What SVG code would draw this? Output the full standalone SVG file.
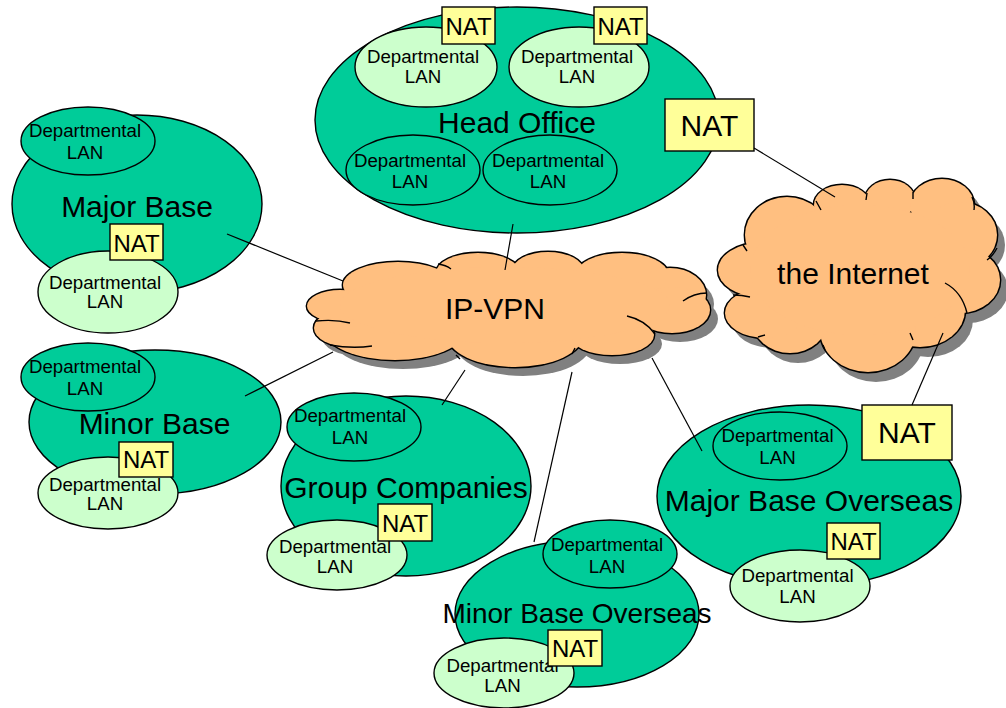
<svg xmlns="http://www.w3.org/2000/svg" xmlns:xlink="http://www.w3.org/1999/xlink" width="1006" height="708" viewBox="0 0 1006 708">
<style>
text{font-family:"Liberation Sans",Arial,sans-serif;fill:#000;text-anchor:middle}
.big{fill:#00CC99;stroke:#000;stroke-width:1.4}
.dd{fill:#00CC99;stroke:#000;stroke-width:1.4}
.dl{fill:#CCFFCC;stroke:#000;stroke-width:1.4}
.nat{fill:#FFFF99;stroke:#000;stroke-width:1.4}
.shadow{fill:#808080;stroke:none}
.cstroke{fill:#000;stroke:#000;stroke-width:2.8}
.cfill{fill:#FFBF80;stroke:none}
.inner{fill:none;stroke:#000;stroke-width:1.4}
.td{font-size:18.7px}
.tt{font-size:30px}
.tn{font-size:24px}
.tnb{font-size:30px}
.conn{stroke:#000;stroke-width:1.2;fill:none}
</style>
<defs>
<g id="vpnLobes">
<ellipse cx="398" cy="285" rx="55" ry="23"/>
<ellipse cx="478" cy="273" rx="42" ry="20"/>
<ellipse cx="548" cy="271" rx="36" ry="19"/>
<ellipse cx="622" cy="274" rx="46" ry="21"/>
<ellipse cx="670" cy="295" rx="36" ry="27"/>
<ellipse cx="672" cy="310" rx="38" ry="23"/>
<ellipse cx="612" cy="335" rx="42" ry="20"/>
<ellipse cx="515" cy="335" rx="68" ry="32"/>
<ellipse cx="395" cy="330" rx="70" ry="30"/>
<ellipse cx="350" cy="328" rx="36" ry="19"/>
<ellipse cx="340" cy="306" rx="33" ry="16"/>
</g>
<g id="netLobes">
<ellipse cx="787" cy="235" rx="42" ry="38"/>
<ellipse cx="842" cy="205" rx="28" ry="20"/>
<ellipse cx="890" cy="200" rx="25" ry="20"/>
<ellipse cx="942" cy="205" rx="32" ry="26"/>
<ellipse cx="960" cy="235" rx="37" ry="33"/>
<ellipse cx="960" cy="280" rx="40" ry="33"/>
<ellipse cx="920" cy="310" rx="45" ry="37"/>
<ellipse cx="868" cy="330" rx="48" ry="42"/>
<ellipse cx="790" cy="320" rx="38" ry="33"/>
<ellipse cx="765" cy="313" rx="40" ry="25"/>
<ellipse cx="760" cy="270" rx="42" ry="27"/>
</g>
</defs>

<g id="majorBase">
<ellipse class="big" cx="137" cy="204" rx="125" ry="89"/>
<text class="tt" x="137" y="217">Major Base</text>
<ellipse class="dd" cx="88" cy="141" rx="67" ry="34"/>
<text class="td" x="85" y="137">Departmental</text>
<text class="td" x="85" y="159">LAN</text>
<ellipse class="dl" cx="108" cy="292" rx="70" ry="41"/>
<text class="td" x="105" y="289">Departmental</text>
<text class="td" x="105" y="308">LAN</text>
<rect class="nat" x="110" y="224" width="53" height="36"/>
<text class="tn" x="136.5" y="252">NAT</text>
</g>

<g id="minorBase">
<ellipse class="big" cx="155" cy="422" rx="126" ry="72"/>
<text class="tt" x="154.5" y="434">Minor Base</text>
<ellipse class="dd" cx="88" cy="377" rx="67" ry="34"/>
<text class="td" x="85" y="373">Departmental</text>
<text class="td" x="85" y="395">LAN</text>
<ellipse class="dl" cx="108" cy="493" rx="70" ry="36"/>
<text class="td" x="105" y="491">Departmental</text>
<text class="td" x="105" y="510">LAN</text>
<rect class="nat" x="119" y="442" width="54" height="35"/>
<text class="tn" x="146" y="468">NAT</text>
</g>

<g id="headOffice">
<ellipse class="big" cx="517" cy="120" rx="202" ry="113"/>
<text class="tt" x="517" y="133">Head Office</text>
<ellipse class="dl" cx="426" cy="67" rx="71" ry="40"/>
<text class="td" x="423" y="63">Departmental</text>
<text class="td" x="423" y="83">LAN</text>
<ellipse class="dl" cx="579" cy="67" rx="70" ry="40"/>
<text class="td" x="577" y="63">Departmental</text>
<text class="td" x="577" y="83">LAN</text>
<ellipse class="dd" cx="413" cy="170" rx="67" ry="35"/>
<text class="td" x="410" y="167">Departmental</text>
<text class="td" x="410" y="188">LAN</text>
<ellipse class="dd" cx="550" cy="170" rx="67" ry="35"/>
<text class="td" x="548" y="167">Departmental</text>
<text class="td" x="548" y="188">LAN</text>
<rect class="nat" x="442" y="7" width="53" height="37"/>
<text class="tn" x="468.5" y="35">NAT</text>
<rect class="nat" x="594" y="7" width="53" height="37"/>
<text class="tn" x="620.5" y="35">NAT</text>
<rect class="nat" x="665" y="99" width="89" height="52"/>
<text class="tnb" x="709.5" y="136">NAT</text>
</g>

<g id="groupCompanies">
<ellipse class="big" cx="406" cy="486" rx="125" ry="90"/>
<text class="tt" x="406" y="498">Group Companies</text>
<ellipse class="dd" cx="354" cy="427" rx="67" ry="34"/>
<text class="td" x="350" y="422">Departmental</text>
<text class="td" x="350" y="444">LAN</text>
<ellipse class="dl" cx="337" cy="555" rx="70" ry="35"/>
<text class="td" x="335" y="553">Departmental</text>
<text class="td" x="335" y="573">LAN</text>
<rect class="nat" x="378" y="504" width="54" height="37"/>
<text class="tn" x="405" y="532">NAT</text>
</g>

<g id="majorBaseOverseas">
<ellipse class="big" cx="809" cy="496" rx="152" ry="91"/>
<text class="tt" x="809" y="511">Major Base Overseas</text>
<ellipse class="dd" cx="780" cy="446" rx="67" ry="34"/>
<text class="td" x="777.5" y="442">Departmental</text>
<text class="td" x="777.5" y="464">LAN</text>
<ellipse class="dl" cx="800" cy="586" rx="70" ry="36"/>
<text class="td" x="797.5" y="582">Departmental</text>
<text class="td" x="797.5" y="603">LAN</text>
<rect class="nat" x="862" y="405" width="90" height="55"/>
<text class="tnb" x="907" y="443">NAT</text>
<rect class="nat" x="827" y="523" width="53" height="36"/>
<text class="tn" x="853.5" y="550">NAT</text>
</g>

<g id="minorBaseOverseas">
<ellipse class="big" cx="577" cy="614" rx="122" ry="73"/>
<ellipse class="dd" cx="610" cy="554" rx="67" ry="34"/>
<text class="td" x="607" y="551">Departmental</text>
<text class="td" x="607" y="573">LAN</text>
<ellipse class="dl" cx="504" cy="673" rx="70" ry="35"/>
<text class="td" x="502.5" y="672">Departmental</text>
<text class="td" x="502.5" y="692">LAN</text>
<text class="tt" x="577" y="623" style="font-size:28px">Minor Base Overseas</text>
<rect class="nat" x="548" y="630" width="54" height="36"/>
<text class="tn" x="575" y="657">NAT</text>
</g>

<g id="ipvpn">
<use xlink:href="#vpnLobes" class="shadow" transform="translate(8,9)"/>
<ellipse class="shadow" cx="513" cy="314" rx="165" ry="38"/>
<use xlink:href="#vpnLobes" class="cstroke"/>
<use xlink:href="#vpnLobes" class="cfill"/>
<ellipse class="cfill" cx="505" cy="305" rx="165" ry="38"/>
<path class="inner" d="M438,264 Q446,265 451,269 M316,321 Q335,319 350,323 M330,345 Q352,349 372,346 M456,355 L460,359 M575,348 L572,354 M627,316 Q645,320 655,334 M683,301 Q694,293 707,293"/>
<text class="tt" x="495" y="319">IP-VPN</text>
</g>

<g id="internet">
<use xlink:href="#netLobes" class="shadow" transform="translate(8,10)"/>
<use xlink:href="#netLobes" class="cstroke"/>
<use xlink:href="#netLobes" class="cfill"/>
<ellipse class="cfill" cx="860" cy="270" rx="110" ry="65"/>
<path class="inner" d="M816,201 L821,210 M867,193 L866,200 M913,192 L913,199 M972,197 Q975,203 974,210 M997,248 Q993,256 987,260 M945,283 Q962,292 967,313 M910,333 L913,340 M823,345 L825,350 M758,337 L765,335 M733,295 Q742,295 750,297 M743,245 L747,251"/>
<text class="tt" x="853" y="284">the Internet</text>
</g>

<g id="connectors">
<line class="conn" x1="227" y1="234" x2="343" y2="281"/>
<line class="conn" x1="513" y1="224" x2="505" y2="270"/>
<line class="conn" x1="245" y1="396" x2="333" y2="352"/>
<line class="conn" x1="442" y1="405" x2="465" y2="370"/>
<line class="conn" x1="534" y1="542" x2="572" y2="372"/>
<line class="conn" x1="702" y1="451" x2="652" y2="358"/>
<line class="conn" x1="754" y1="148" x2="835" y2="197"/>
<line class="conn" x1="943" y1="333" x2="912" y2="405"/>
</g>
</svg>
